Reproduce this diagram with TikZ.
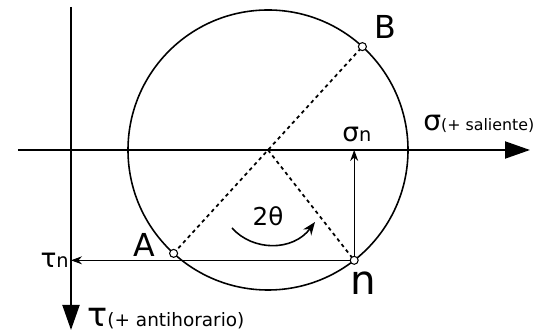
\documentclass[tikz,border=0pt]{standalone}
\usepackage{fontspec}
\setmainfont{DejaVu Sans}
\usetikzlibrary{arrows.meta}
\tikzset{
  eje/.style={line width=1.1pt, -{Triangle[length=0.5cm,width=0.34cm]}},
  punteada/.style={line width=1pt, dash pattern=on 2pt off 2pt},
  flechita/.style={line width=0.6pt, -{Stealth[length=2.2mm,width=1.6mm]}},
  polo/.style={draw, circle, fill=white, line width=0.6pt, inner sep=0pt, minimum size=1.6mm},
  letra/.style={font=\fontsize{18}{21}\selectfont}
}
\begin{document}
\begin{tikzpicture}
    \useasboundingbox (-5.36,-3.68) rectangle (5.42,3.0);
    % Ejes sigma y tau
    \coordinate (sw) at (-5.0,0);
    \coordinate (se) at (5.24,0);
    \coordinate (tn) at (-3.94,2.86);
    \coordinate (ts) at (-3.94,-3.6);
    \draw[eje] (sw) -- (se);
    \draw[eje] (tn) -- (ts);
    \node[anchor=base west, inner sep=0pt] (sig) at (3.1,0.38) {\fontsize{16}{19}\selectfont σ\fontsize{9}{11}\selectfont(+ saliente)};
    \node[anchor=base west, inner sep=0pt] (tau) at (-3.62,-3.54) {\fontsize{19}{22}\selectfont τ\fontsize{10.5}{12}\selectfont(+ antihorario)};
    % Circulo de Mohr
    \coordinate (O) at (0,0);
    \draw[line width=0.9pt] (O) circle (2.8);
    \coordinate (B) at (47.6:2.8);
    \coordinate (A) at (227.6:2.8);
    \coordinate (n) at (-52:2.8);
    \draw[punteada] (A) -- (B);
    \draw[punteada] (O) -- (n);
    % Proyecciones del punto n
    \coordinate (sn) at (n |- O);
    \coordinate (tnn) at (n -| tn);
    \draw[flechita] (n) -- (sn);
    \draw[flechita] (n) -- (tnn);
    \node[anchor=base west, inner sep=0pt] (lsn) at (1.48,0.16) {\fontsize{15}{17}\selectfont σ\fontsize{11}{13}\selectfont n};
    \node[anchor=base east, inner sep=0pt] (ltn) at (-3.98,-2.36) {\fontsize{15}{17}\selectfont τ\fontsize{11}{13}\selectfont n};
    % Angulo 2 theta
    \coordinate (a0) at (-0.72,-1.56);
    \coordinate (a1) at (0.94,-1.44);
    \draw[line width=0.9pt, -{Stealth[length=2.6mm,width=2mm]}] (a0) .. controls (-0.3,-2.03) and (0.5,-2.03) .. (a1);
    \node[font=\fontsize{14}{16}\selectfont] (ang) at (0,-1.32) {2θ};
    % Puntos
    \node[polo] (pA) at (A) {};
    \node[polo] (pB) at (B) {};
    \node[polo] (pn) at (n) {};
    \node[letra] (lA) at (-2.47,-1.89) {A};
    \node[letra] (lB) at (2.34,2.47) {B};
    \node[anchor=base, inner sep=0pt, font=\fontsize{23}{26}\selectfont] (ln) at (1.9,-2.9) {n};
\end{tikzpicture}
\end{document}
